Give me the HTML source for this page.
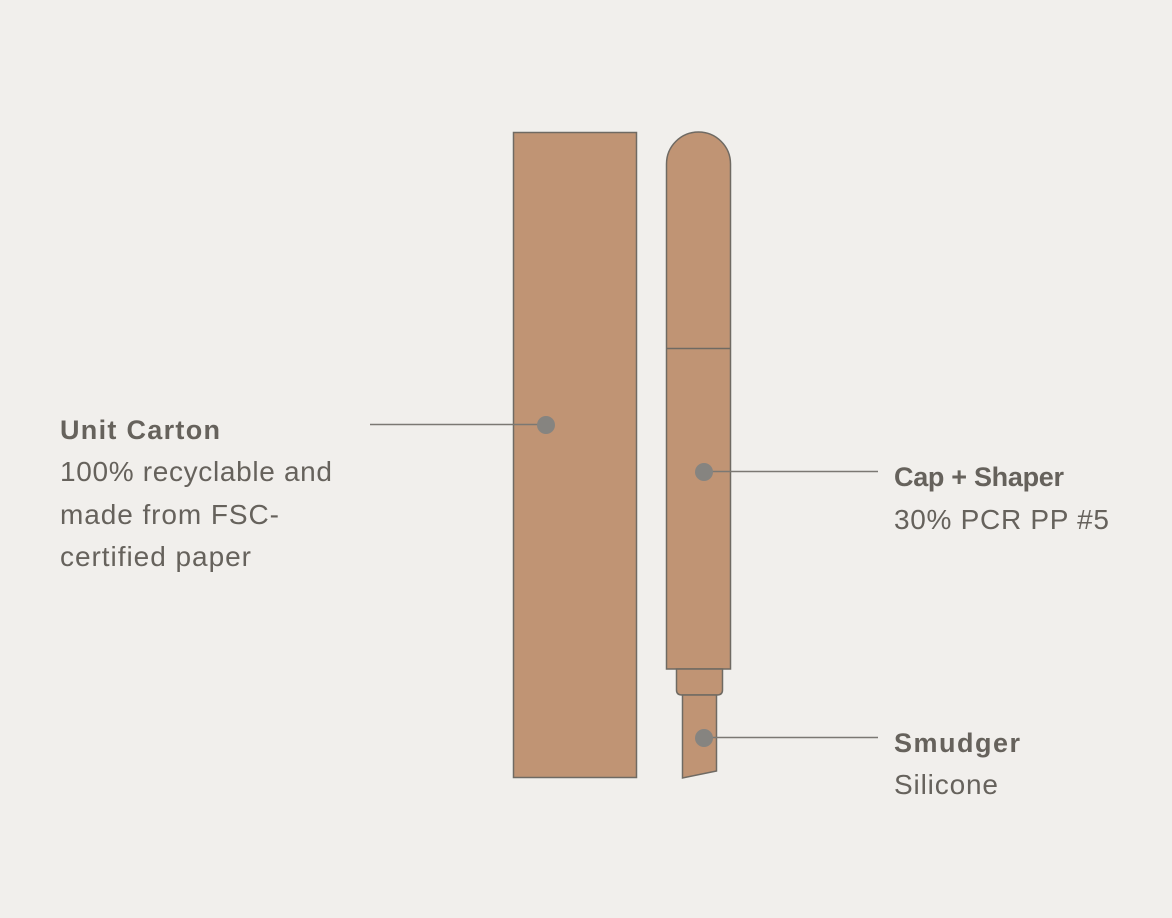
<!DOCTYPE html>
<html><head><style>
body{margin:0;background:#f1efec;}
svg{display:block}
text{font-family:"Liberation Sans",Arial,sans-serif;font-size:28px;fill:#66625c}
.b{font-weight:bold;font-size:27px}
</style></head><body>
<svg width="1172" height="918" viewBox="0 0 1172 918">
<rect width="1172" height="918" fill="#f1efec"/>
<g fill="#c09474" stroke="#6f6a63" stroke-width="1.5">
<rect x="513.5" y="132.5" width="123" height="645"/>
<path d="M666.5 669 V164 A32 32 0 0 1 730.5 164 V669 Z"/>
<line x1="666.5" y1="348.5" x2="730.5" y2="348.5"/>
<path d="M676.5 669 H722.5 V690 Q722.5 695 717 695 H682 Q676.5 695 676.5 690 Z"/>
<path d="M682.5 695 H716.5 V771 L682.5 778 Z"/>
</g>
<g stroke="#7b7873" stroke-width="1.5">
<line x1="370" y1="424.5" x2="546" y2="424.5"/>
<line x1="704" y1="471.5" x2="878" y2="471.5"/>
<line x1="704" y1="737.5" x2="878" y2="737.5"/>
</g>
<g fill="#868480">
<circle cx="546" cy="425" r="9"/>
<circle cx="704" cy="472" r="9"/>
<circle cx="704" cy="738" r="9"/>
</g>
<text x="60" y="439" class="b" textLength="160" lengthAdjust="spacing">Unit Carton</text>
<text x="60" y="481" textLength="272" lengthAdjust="spacing">100% recyclable and</text>
<text x="60" y="524" textLength="219" lengthAdjust="spacing">made from FSC-</text>
<text x="60" y="566" textLength="191" lengthAdjust="spacing">certified paper</text>
<text x="894" y="486" class="b" textLength="170" lengthAdjust="spacing">Cap + Shaper</text>
<text x="894" y="529" textLength="215" lengthAdjust="spacing">30% PCR PP #5</text>
<text x="894" y="752" class="b" textLength="126" lengthAdjust="spacing">Smudger</text>
<text x="894" y="794" textLength="104" lengthAdjust="spacing">Silicone</text>
</svg>
</body></html>
